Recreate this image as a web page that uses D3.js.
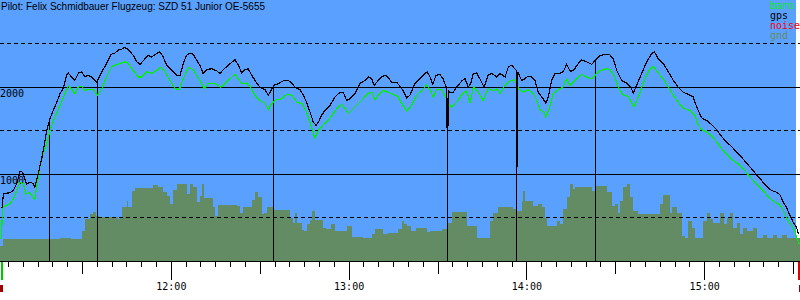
<!DOCTYPE html>
<html>
<head>
<meta charset="utf-8">
<script src="https://cdn.jsdelivr.net/npm/d3@7"></script>
<style>
  body { margin: 0; background: #fff; }
  svg { display: block; }
</style>
</head>
<body>
<svg id="chart" width="800" height="300"></svg>
<script>
const title = "Pilot: Felix Schmidbauer Flugzeug: SZD 51 Junior OE-5655";
const legendNames = ["baro", "gps", "noise", "gnd"];
const legendColors = ["#00f000", "#000000", "#ff0000", "#648c64"];
const altLabels = [1000, 2000];
const gridLevels = [500, 1000, 1500, 2000, 2500];

// all times are minutes after 11:00, altitudes in metres
const takeoffTime = 3.0;
const landingTime = 272.0;
const markerTimes = [19.2, 35.4, 94.6, 153.4, 176.8, 203.3];

const gpsTime = [
  3.0, 3.5, 5.7, 6.8, 8.0, 9.1, 10.0, 11.3, 12.5, 13.6,
  14.1, 15.3, 16.4, 17.3, 18.1, 19.2, 20.3, 21.5, 22.6, 23.7,
  24.8, 25.4, 26.5, 27.6, 28.8, 29.9, 31.0, 32.1, 33.3, 35.0,
  35.5, 36.7, 38.3, 39.8, 41.1, 42.3, 43.1, 44.5, 45.6, 47.3,
  48.5, 49.6, 51.3, 52.4, 53.5, 55.2, 56.3, 57.4, 58.6, 60.3,
  62.0, 63.1, 64.2, 65.3, 66.5, 67.6, 68.7, 69.8, 70.9, 72.1,
  73.8, 75.5, 76.6, 77.7, 79.4, 81.1, 81.6, 82.8, 83.9, 85.0,
  86.1, 87.3, 89.0, 90.1, 91.8, 92.9, 94.0, 94.8, 96.3, 97.9,
  99.6, 100.8, 101.9, 103.6, 104.7, 105.8, 107.0, 108.1, 109.0, 109.8,
  110.9, 112.0, 113.7, 115.4, 117.1, 118.2, 119.3, 120.5, 122.1, 123.8,
  125.5, 126.6, 127.8, 128.6, 130.0, 131.2, 132.3, 133.4, 134.5, 136.2,
  137.3, 138.4, 139.6, 140.7, 142.4, 144.1, 145.8, 146.5, 147.5, 148.4,
  149.5, 150.8, 151.9, 153.1, 153.4, 153.6, 154.2, 155.3, 156.5, 158.2,
  159.3, 160.4, 161.2, 162.1, 163.2, 164.3, 165.7, 167.1, 168.3, 170.0,
  171.1, 172.8, 173.9, 175.0, 176.1, 176.6, 176.8, 177.1, 178.4, 179.5,
  180.6, 181.8, 182.9, 184.0, 185.2, 186.6, 187.4, 188.5, 189.6, 191.3,
  192.4, 193.6, 194.9, 196.1, 197.5, 198.7, 200.3, 202.0, 203.1, 204.8,
  206.5, 208.0, 209.3, 210.5, 212.2, 213.8, 215.2, 216.1, 217.2, 218.9,
  220.6, 222.3, 223.2, 224.5, 226.2, 227.9, 229.6, 231.3, 232.9, 234.6,
  236.3, 237.7, 239.2, 240.8, 242.5, 244.2, 245.9, 247.6, 249.3, 251.0,
  252.7, 254.3, 256.0, 257.7, 259.4, 261.1, 262.8, 264.5, 265.6, 266.7,
  267.8, 269.0, 270.1, 271.2, 271.8
];
const gpsAlt = [
  610, 775, 785, 810, 890, 1030, 1020, 885, 905, 890,
  845, 1015, 1175, 1340, 1500, 1635, 1730, 1825, 1925, 1985,
  2135, 2160, 2115, 2075, 2160, 2175, 2115, 2135, 2115, 2055,
  2095, 2175, 2270, 2375, 2390, 2425, 2430, 2455, 2430, 2365,
  2290, 2260, 2325, 2365, 2345, 2385, 2405, 2345, 2250, 2190,
  2135, 2135, 2270, 2365, 2390, 2375, 2310, 2250, 2155, 2200,
  2210, 2185, 2155, 2200, 2250, 2300, 2315, 2250, 2160, 2200,
  2210, 2135, 2045, 1995, 1970, 1905, 1970, 2020, 2040, 2070,
  2075, 2045, 1995, 1970, 1905, 1825, 1710, 1595, 1560, 1595,
  1675, 1730, 1790, 1885, 1940, 1940, 1845, 1865, 1925, 2040,
  2075, 2115, 2095, 2020, 2075, 2115, 2135, 2110, 2055, 2055,
  2010, 1960, 1875, 1905, 2040, 2095, 2155, 2175, 2115, 2030,
  2135, 2145, 2095, 1980, 1005, 1960, 1940, 1940, 2000, 2070,
  2095, 2000, 2040, 2155, 2160, 2095, 2000, 2135, 2155, 2115,
  2155, 2115, 2230, 2250, 2210, 2190, 1075, 2170, 2075, 2095,
  2125, 2115, 2075, 1940, 1885, 1815, 1885, 2075, 2155, 2155,
  2175, 2260, 2175, 2200, 2270, 2310, 2290, 2260, 2300, 2360,
  2375, 2375, 2325, 2190, 2075, 2045, 2000, 1930, 2020, 2155,
  2290, 2385, 2405, 2325, 2270, 2175, 2075, 1995, 1940, 1915,
  1885, 1750, 1645, 1615, 1570, 1510, 1430, 1365, 1315, 1250,
  1190, 1125, 1060, 990, 925, 855, 810, 790, 760, 675,
  615, 520, 440, 385, 310
];

const baroTime = [
  2.8, 3.2, 5.7, 6.8, 8.0, 9.1, 10.2, 11.1, 12.2, 13.6,
  14.1, 14.9, 15.8, 16.9, 18.1, 19.2, 20.9, 22.6, 24.3, 25.4,
  26.5, 27.6, 28.8, 29.9, 31.0, 32.1, 33.8, 35.2, 36.7, 38.3,
  40.0, 41.1, 42.8, 44.5, 45.6, 47.3, 49.0, 50.2, 51.8, 53.5,
  55.2, 56.7, 58.0, 59.7, 61.4, 62.8, 64.2, 65.9, 67.6, 69.8,
  71.2, 72.6, 74.3, 76.0, 76.8, 78.3, 80.0, 81.6, 82.8, 83.9,
  85.6, 87.3, 88.4, 90.1, 91.8, 92.9, 94.0, 95.7, 97.4, 99.1,
  100.8, 102.5, 104.2, 105.3, 106.4, 107.5, 108.6, 109.8, 111.4, 113.1,
  114.8, 116.5, 117.7, 118.8, 119.9, 121.6, 123.3, 124.9, 126.6, 127.8,
  128.9, 130.0, 131.7, 133.4, 135.1, 136.8, 137.3, 139.6, 141.3, 143.0,
  144.7, 146.3, 147.5, 148.6, 149.7, 151.4, 152.5, 153.6, 154.8, 156.5,
  158.2, 159.8, 161.0, 162.1, 163.8, 165.4, 167.1, 168.8, 170.0, 171.1,
  172.8, 174.5, 176.1, 177.3, 178.9, 180.6, 182.3, 183.5, 184.6, 185.9,
  186.6, 187.7, 189.1, 190.8, 192.4, 193.6, 194.7, 195.8, 197.5, 198.7,
  200.3, 202.0, 203.7, 204.8, 207.1, 208.2, 209.9, 211.0, 212.7, 214.4,
  216.3, 217.8, 219.4, 221.1, 222.8, 224.5, 226.2, 227.9, 229.6, 231.3,
  232.9, 235.2, 236.9, 238.0, 239.7, 241.4, 243.1, 244.8, 246.4, 248.1,
  249.8, 251.5, 253.2, 254.9, 256.6, 258.3, 259.9, 261.6, 263.3, 265.0,
  266.2, 267.3, 268.4, 269.5, 270.6, 271.4, 272.1
];
const baroAlt = [
  255, 615, 660, 710, 810, 905, 885, 770, 790, 730,
  710, 885, 1075, 1235, 1350, 1500, 1655, 1790, 1925, 2010,
  1980, 1925, 2000, 2010, 1960, 1970, 1970, 1905, 1980, 2115,
  2230, 2250, 2270, 2290, 2270, 2190, 2115, 2115, 2175, 2155,
  2190, 2230, 2175, 2075, 1980, 1970, 2095, 2225, 2200, 2075,
  1980, 2040, 2045, 2020, 1995, 2040, 2095, 2145, 2095, 2040,
  2045, 1980, 1905, 1845, 1815, 1740, 1810, 1855, 1865, 1915,
  1905, 1825, 1810, 1750, 1655, 1540, 1415, 1500, 1565, 1615,
  1695, 1770, 1800, 1750, 1695, 1750, 1810, 1865, 1925, 1940,
  1855, 1905, 1960, 1940, 1915, 1885, 1845, 1725, 1790, 1905,
  1960, 2020, 1970, 1885, 1970, 1970, 1905, 1810, 1770, 1825,
  1915, 1960, 1815, 2000, 1940, 1845, 1980, 1960, 1980, 1925,
  2020, 2070, 2085, 1980, 1940, 1970, 1925, 1845, 1740, 1710,
  1655, 1750, 1925, 1970, 2000, 2095, 2020, 2055, 2115, 2145,
  2115, 2095, 2155, 2185, 2210, 2200, 2115, 2000, 1905, 1890,
  1770, 1885, 2040, 2175, 2240, 2160, 2095, 2000, 1905, 1825,
  1760, 1730, 1675, 1560, 1500, 1470, 1415, 1345, 1270, 1210,
  1155, 1115, 1060, 990, 925, 865, 810, 740, 690, 655,
  615, 540, 460, 405, 345, 250, 195
];

const gndTime = [
  2.3, 3.2, 22.6, 26.3, 30.0, 31.0, 32.7, 33.7, 34.7, 35.7,
  42.2, 42.8, 43.5, 45.2, 45.5, 46.9, 47.9, 54.0, 55.7, 57.3,
  58.7, 59.7, 60.7, 62.1, 65.4, 66.5, 67.5, 68.8, 69.8, 70.4,
  71.2, 74.1, 74.9, 75.9, 82.3, 83.3, 84.3, 87.4, 88.4, 89.4,
  90.8, 91.4, 92.4, 94.5, 100.2, 101.2, 101.9, 102.6, 104.3, 104.9,
  106.0, 107.0, 107.6, 108.6, 111.3, 112.4, 114.0, 115.4, 119.4, 121.1,
  124.8, 127.9, 128.9, 131.6, 133.3, 136.7, 138.0, 138.7, 139.7, 141.0,
  142.7, 146.4, 147.5, 151.5, 153.2, 154.9, 159.9, 163.3, 164.3, 167.7,
  168.7, 170.4, 175.5, 176.8, 178.5, 178.8, 179.5, 182.2, 183.9, 185.3,
  186.3, 186.9, 190.3, 191.3, 192.3, 193.7, 194.7, 195.7, 196.4, 202.1,
  203.1, 207.2, 208.9, 209.9, 210.9, 211.6, 212.6, 214.0, 215.0, 216.0,
  217.7, 225.1, 226.1, 228.5, 229.1, 230.8, 232.5, 233.5, 234.5, 235.9,
  236.9, 239.6, 240.9, 241.9, 243.0, 245.3, 246.7, 247.7, 248.7, 249.7,
  251.1, 252.1, 253.1, 254.4, 256.5, 257.8, 259.8, 261.2, 263.2, 264.6,
  266.3, 267.9, 272.3
];
const gndAlt = [
  175, 250, 270, 255, 345, 480, 540, 565, 520, 510,
  480, 510, 625, 690, 625, 810, 840, 875, 845, 790,
  750, 655, 815, 885, 770, 885, 845, 675, 750, 885,
  720, 615, 520, 645, 635, 555, 625, 700, 790, 730,
  540, 555, 615, 590, 500, 440, 555, 440, 355, 340,
  425, 470, 570, 470, 385, 365, 425, 345, 405, 275,
  260, 310, 365, 310, 325, 365, 460, 425, 405, 345,
  375, 335, 345, 365, 440, 565, 405, 270, 260, 460,
  555, 625, 595, 575, 690, 810, 690, 635, 660, 625,
  500, 405, 460, 425, 595, 730, 885, 830, 855, 800,
  865, 790, 635, 655, 555, 690, 845, 885, 730, 575,
  540, 655, 760, 555, 615, 555, 290, 270, 460, 385,
  260, 460, 555, 480, 440, 555, 425, 500, 555, 385,
  440, 310, 375, 345, 385, 260, 300, 270, 300, 270,
  300, 260, 260
];

const day = new Date(2000, 0, 1, 11, 0, 0);
const at = m => new Date(day.getTime() + m * 60000);

const width = 800;
const plotBottom = 261;
const plotRight = 796;

const x = d3.scaleTime()
  .domain([at(2.333), at(271.67)])
  .range([0, 798]);
const y = d3.scaleLinear()
  .domain([0, 3000])
  .range([261, 0]);

const gps = gpsTime.map((t, i) => ({ t: at(t), a: gpsAlt[i] }));
const baro = baroTime.map((t, i) => ({ t: at(t), a: baroAlt[i] }));
const gnd = gndTime.map((t, i) => ({ t: at(t), a: gndAlt[i] }));

const svg = d3.select("#chart");
const mono = "'DejaVu Sans Mono', monospace";

svg.append("rect")
  .attr("x", 0).attr("y", 0)
  .attr("width", plotRight).attr("height", plotBottom)
  .attr("fill", "#5aa0ff");

// ground
svg.append("path")
  .datum(gnd)
  .attr("d", d3.area()
    .x(d => x(d.t))
    .y0(y(0))
    .y1(d => y(d.a))
    .curve(d3.curveStepAfter))
  .attr("fill", "#648c64")
  .attr("shape-rendering", "crispEdges");

// height lines
svg.selectAll("line.grid")
  .data(gridLevels)
  .enter()
  .append("line")
  .attr("class", "grid")
  .attr("x1", 0).attr("x2", width)
  .attr("y1", d => Math.floor(y(d)) + 0.5)
  .attr("y2", d => Math.floor(y(d)) + 0.5)
  .attr("stroke", "#000")
  .attr("stroke-dasharray", d => d % 1000 ? "4,3" : null)
  .attr("shape-rendering", "crispEdges");

svg.selectAll("text.alt")
  .data(altLabels)
  .enter()
  .append("text")
  .attr("class", "alt")
  .attr("x", 0)
  .attr("y", d => Math.floor(y(d)) + 10)
  .style("font-family", mono)
  .style("font-size", "10px")
  .text(d => d);

// markers drop from the gps trace
const bis = d3.bisector(d => d.t).left;
function gpsAt(t) {
  const i = bis(gps, t);
  if (i <= 0) return gps[0].a;
  if (i >= gps.length) return gps[gps.length - 1].a;
  const a = gps[i - 1], b = gps[i];
  const k = (t - a.t) / (b.t - a.t);
  return a.a + (b.a - a.a) * k;
}
svg.selectAll("line.marker")
  .data(markerTimes)
  .enter()
  .append("line")
  .attr("class", "marker")
  .attr("x1", d => Math.floor(x(at(d))) + 0.5)
  .attr("x2", d => Math.floor(x(at(d))) + 0.5)
  .attr("y1", d => y(gpsAt(at(d))))
  .attr("y2", plotBottom)
  .attr("stroke", "#000")
  .attr("shape-rendering", "crispEdges");

const line = d3.line()
  .x(d => x(d.t))
  .y(d => y(d.a));

svg.append("path")
  .datum(baro)
  .attr("d", line)
  .attr("fill", "none")
  .attr("stroke", legendColors[0])
  .attr("stroke-width", 1.2)
  .attr("shape-rendering", "crispEdges");

svg.append("path")
  .datum(gps)
  .attr("d", line)
  .attr("fill", "none")
  .attr("stroke", "#000")
  .attr("stroke-width", 1.2)
  .attr("shape-rendering", "crispEdges");

// bottom axis line and time ticks
svg.append("line")
  .attr("x1", 0).attr("x2", width)
  .attr("y1", plotBottom + 0.5).attr("y2", plotBottom + 0.5)
  .attr("stroke", "#000")
  .attr("shape-rendering", "crispEdges");

const axisG = svg.append("g").attr("transform", `translate(0,${plotBottom})`);
axisG.append("g")
  .call(d3.axisBottom(x).ticks(d3.timeMinute.every(5)).tickSize(6).tickFormat(""));
axisG.append("g")
  .call(d3.axisBottom(x).ticks(d3.timeMinute.every(30)).tickSize(13).tickFormat(""));
axisG.append("g")
  .call(d3.axisBottom(x).ticks(d3.timeHour.every(1)).tickSize(19).tickPadding(3)
    .tickFormat(d3.timeFormat("%H:%M")))
  .attr("font-family", mono)
  .attr("font-size", 10);
axisG.selectAll(".domain").remove();
axisG.selectAll("line").attr("shape-rendering", "crispEdges");

// takeoff / landing
const x0 = Math.round(x(at(takeoffTime)));
const x1 = Math.round(x(at(landingTime)));
svg.append("rect").attr("x", x0 - 1).attr("y", 262).attr("width", 2).attr("height", 18).attr("fill", "#00c800");
svg.append("rect").attr("x", x0 - 2).attr("y", 285).attr("width", 3).attr("height", 7).attr("fill", "#a00000");
svg.append("rect").attr("x", x1 - 1).attr("y", 262).attr("width", 3).attr("height", 18).attr("fill", "#e00000");
svg.append("rect").attr("x", x1).attr("y", 285).attr("width", 2).attr("height", 7).attr("fill", "#a00000");

// title and legend
svg.append("text")
  .attr("x", 1).attr("y", 10)
  .style("font-family", "'Liberation Sans', Arial, sans-serif")
  .style("font-size", "10px")
  .attr("fill", "#000")
  .text(title);

svg.selectAll("text.legend")
  .data(legendNames)
  .enter()
  .append("text")
  .attr("class", "legend")
  .attr("x", 770)
  .attr("y", (d, i) => 9 + i * 10)
  .attr("fill", (d, i) => legendColors[i])
  .style("font-family", mono)
  .style("font-size", "10px")
  .text(d => d);
</script>
</body>
</html>
